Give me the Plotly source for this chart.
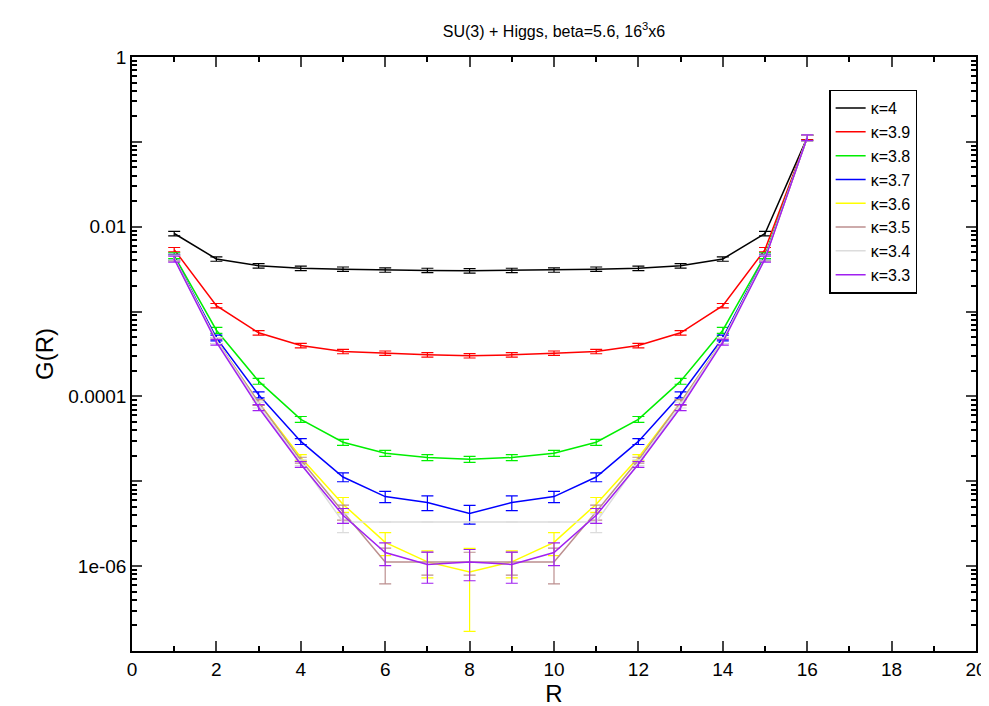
import plotly.graph_objects as go

R = list(range(1, 17))
kappas = ["κ=4", "κ=3.9", "κ=3.8", "κ=3.7", "κ=3.6", "κ=3.5", "κ=3.4", "κ=3.3"]
colors = ["black", "red", "#00ee00", "blue", "#ffff00", "#bc8f8f", "#dcdcdc", "#a020f0"]

def sym(h):  # h: log10 values R=1..8, plus R16 value
    half, top = h[:8], h[8]
    return half + half[-2::-1][:7] + [top]

log_g = [
    sym([-2.08, -2.38, -2.46, -2.49, -2.50, -2.51, -2.515, -2.52, -0.95]),
    sym([-2.27, -2.93, -3.25, -3.40, -3.47, -3.49, -3.51, -3.52, -0.95]),
    sym([-2.34, -3.22, -3.82, -4.27, -4.54, -4.67, -4.72, -4.74, -0.95]),
    sym([-2.36, -3.31, -3.98, -4.53, -4.95, -5.18, -5.25, -5.38, -0.95]),
    sym([-2.37, -3.34, -4.07, -4.72, -5.27, -5.72, -5.95, -6.07, -0.95]),
    sym([-2.37, -3.34, -4.07, -4.75, -5.36, -5.95, -5.95, -5.95, -0.95]),
    sym([-2.37, -3.34, -4.10, -4.78, -5.48, -5.48, -5.48, -5.48, -0.95]),
    sym([-2.38, -3.36, -4.13, -4.80, -5.40, -5.84, -5.98, -5.95, -0.95]),
]
# relative errors (fraction of value), upper and lower
rel_up = [
    [0.06]*16,
    [0.06]*16,
    [0.08]*16,
    [0.08]*4 + [0.12, 0.15, 0.2, 0.25, 0.2, 0.15, 0.12] + [0.08]*5,
    [0.08]*4 + [0.2, 0.3, 0.35, 0.9, 0.35, 0.3, 0.2] + [0.08]*5,
    [0.08]*4 + [0.2, 0.45, 0.3, 0.3, 0.3, 0.45, 0.2] + [0.08]*5,
    [0.08]*4 + [0.25, 0.0, 0.0, 0.0, 0.0, 0.0, 0.25] + [0.08]*5,
    [0.08]*4 + [0.2, 0.3, 0.4, 0.4, 0.4, 0.3, 0.2] + [0.08]*5,
]
rel_dn = [list(r) for r in rel_up]
rel_dn[4][7] = 0.8

fig = go.Figure()
for name, c, lg, ru, rd in zip(kappas, colors, log_g, rel_up, rel_dn):
    y = [10**v for v in lg]
    fig.add_trace(go.Scatter(x=R, y=y, name=name, mode="lines",
                             line=dict(color=c, width=1.5),
                             error_y=dict(type="data", array=[a*b for a, b in zip(y, ru)],
                                          arrayminus=[a*b for a, b in zip(y, rd)],
                                          color=c, thickness=1.2, width=6)))

ax = dict(showline=True, linecolor="black", linewidth=1.5, mirror="ticks", automargin=False,
          ticks="inside", ticklen=10, tickwidth=1.5, showgrid=False, zeroline=False,
          tickfont=dict(size=19, family="Liberation Sans", color="black"))
fig.update_xaxes(**ax, range=[0, 20], dtick=2,
                 minor=dict(ticks="inside", ticklen=5, dtick=1, tickcolor="black"),
                 title=dict(text="R", font=dict(size=24, family="Liberation Sans", color="black"), standoff=2))
fig.update_yaxes(**ax, type="log", range=[-7, 0],
                 tickvals=[1, 0.1, 0.01, 1e-3, 1e-4, 1e-5, 1e-6, 1e-7],
                 ticktext=["1", "", "0.01", "", "0.0001", "", "1e-06", ""],
                 minor=dict(ticks="inside", ticklen=5, dtick="D1", tickcolor="black"),
                 title=dict(text="G(R)", font=dict(size=24, family="Liberation Sans", color="black"), standoff=8))
fig.update_layout(
    width=989, height=706, plot_bgcolor="white", paper_bgcolor="white",
    margin=dict(l=124, r=21, t=49, b=63, autoexpand=False),
    title=dict(text="SU(3) + Higgs, beta=5.6, 16<sup>3</sup>x6", x=0.5, xref="paper", y=0.975,
               font=dict(size=16, family="Liberation Sans", color="black")),
    legend=dict(x=0.826, y=0.945, xanchor="left", yanchor="top", bgcolor="white",
                bordercolor="black", borderwidth=1.5,
                font=dict(size=16, family="Liberation Sans", color="black")),
)
fig.write_html("out.html")
